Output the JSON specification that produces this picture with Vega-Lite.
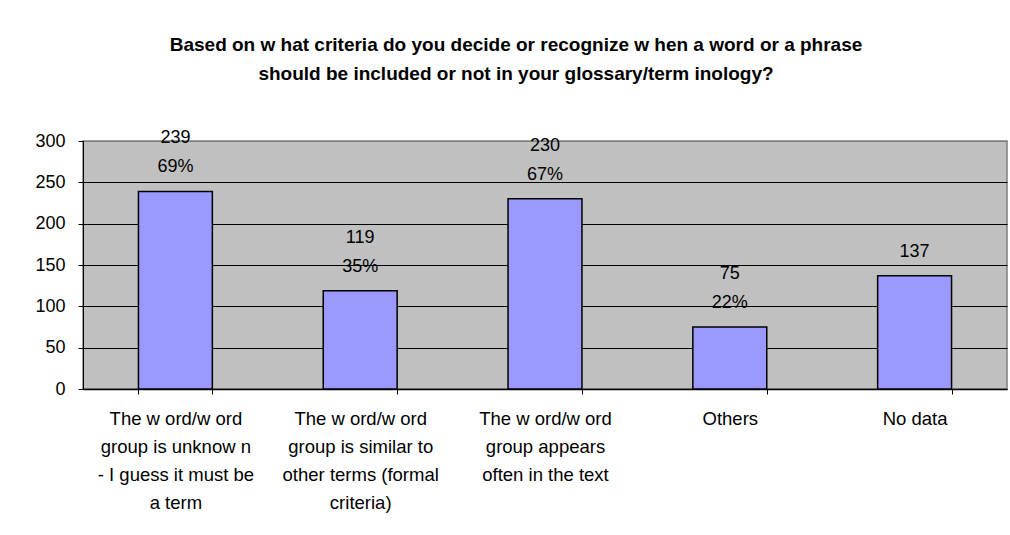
{
  "$schema": "https://vega.github.io/schema/vega-lite/v6.json",
  "autosize": "none",
  "width": 924,
  "height": 248,
  "padding": {"left": 83, "top": 141, "right": 3, "bottom": 146},
  "background": "white",
  "title": {
    "text": ["Based on w hat criteria do you decide or recognize w hen a word or a phrase", "should be included or not in your glossary/term inology?"],
    "font": "Liberation Sans",
    "fontSize": 19,
    "fontWeight": "bold",
    "color": "black",
    "lineHeight": 29,
    "anchor": "middle",
    "frame": "group",
    "dx": -29,
    "offset": 45
  },
  "data": {
    "values": [
      {"category": "The w ord/w ord|group is unknow n|- I guess it must be|a term", "count": 239, "label": "239\n69%"},
      {"category": "The w ord/w ord|group is similar to|other terms (formal|criteria)", "count": 119, "label": "119\n35%"},
      {"category": "The w ord/w ord|group appears|often in the text", "count": 230, "label": "230\n67%"},
      {"category": "Others", "count": 75, "label": "75\n22%"},
      {"category": "No data", "count": 137, "label": "\n137"}
    ]
  },
  "encoding": {
    "x": {
      "field": "category",
      "type": "nominal",
      "sort": null,
      "scale": {"paddingInner": 0.6, "paddingOuter": 0.3},
      "axis": {
        "title": null,
        "labelAngle": 0,
        "labelExpr": "split(datum.label, '|')",
        "labelFont": "Liberation Sans",
        "labelFontSize": 18.5,
        "labelColor": "black",
        "labelLineHeight": 28,
        "labelPadding": 15,
        "labelLimit": 300,
        "tickBand": "extent",
        "tickSize": 5,
        "tickColor": "black",
        "domainColor": "black",
        "domainWidth": 1.5,
        "grid": false
      }
    },
    "y": {
      "field": "count",
      "type": "quantitative",
      "scale": {"domain": [0, 300], "nice": false},
      "axis": {
        "title": null,
        "values": [0, 50, 100, 150, 200, 250, 300],
        "labelFont": "Liberation Sans",
        "labelFontSize": 18,
        "labelColor": "black",
        "labelPadding": 13,
        "tickSize": 5,
        "tickColor": "black",
        "domainColor": "black",
        "grid": true,
        "gridColor": {"condition": {"test": "datum.value == 300", "value": "#808080"}, "value": "black"},
        "gridWidth": 1
      }
    }
  },
  "layer": [
    {
      "mark": {"type": "bar", "fill": "#9999FF", "stroke": "black", "strokeWidth": 1.5}
    },
    {
      "mark": {
        "type": "text",
        "baseline": "bottom",
        "align": "center",
        "dy": -44,
        "lineBreak": "\n",
        "lineHeight": 29,
        "font": "Liberation Sans",
        "fontSize": 18,
        "color": "black"
      },
      "encoding": {"text": {"field": "label"}}
    }
  ],
  "config": {
    "view": {"fill": "#C0C0C0", "stroke": "#808080", "strokeWidth": 1.5}
  }
}
